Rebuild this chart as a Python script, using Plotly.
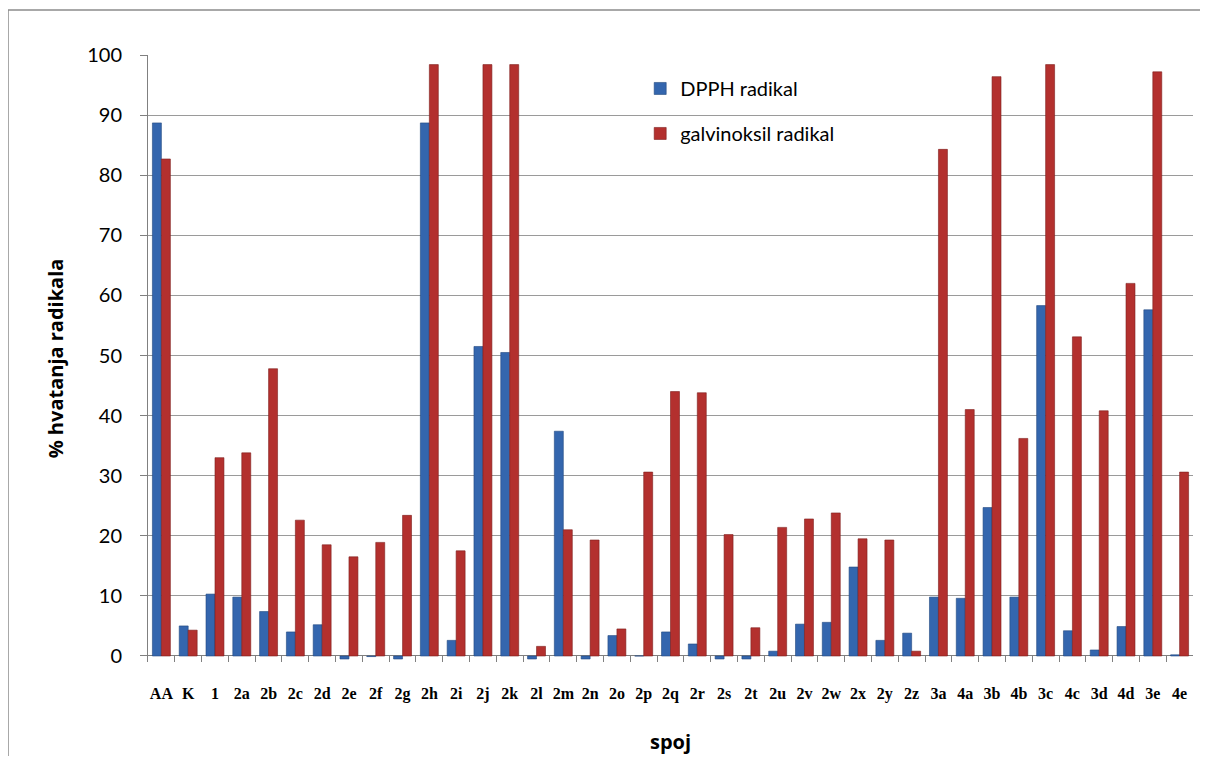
import plotly.graph_objects as go

spoj = ['AA', 'K', '1', '2a', '2b', '2c', '2d', '2e', '2f', '2g', '2h', '2i', '2j', '2k',
        '2l', '2m', '2n', '2o', '2p', '2q', '2r', '2s', '2t', '2u', '2v', '2w', '2x', '2y',
        '2z', '3a', '4a', '3b', '4b', '3c', '4c', '3d', '4d', '3e', '4e']

dpph = [88.7, 5.0, 10.3, 9.8, 7.4, 4.0, 5.2, -0.5, -0.1, -0.5, 88.7, 2.6, 51.5, 50.5,
        -0.5, 37.4, -0.5, 3.4, 0.0, 4.0, 2.0, -0.5, -0.5, 0.8, 5.3, 5.6, 14.8, 2.6,
        3.8, 9.8, 9.6, 24.7, 9.8, 58.3, 4.2, 1.0, 4.9, 57.6, 0.2]

galvinoksil = [82.7, 4.3, 33.0, 33.8, 47.8, 22.6, 18.5, 16.5, 18.9, 23.4, 98.4, 17.5, 98.4, 98.4,
               1.6, 21.0, 19.3, 4.5, 30.6, 44.0, 43.8, 20.2, 4.7, 21.4, 22.8, 23.8, 19.5, 19.3,
               0.8, 84.3, 41.0, 96.4, 36.2, 98.4, 53.1, 40.8, 62.0, 97.2, 30.6]

fig = go.Figure()
fig.add_trace(go.Bar(
    x=spoj, y=dpph, name='DPPH radikal', legendgroup='a',
    marker=dict(color='#3466ae', line=dict(color='#22487f', width=0.6)),
))
fig.add_trace(go.Bar(
    x=spoj, y=galvinoksil, name='galvinoksil radikal', legendgroup='b',
    marker=dict(color='#b3302e', line=dict(color='#7e1f1d', width=0.6)),
))

# page body has 8px margin, so figure is 1192x748 drawn at (8, 8)
# plot area on screen: x 148..1193, y 55..662 (value 0 at 656)
fig.update_layout(
    width=1192, height=748,
    margin=dict(l=140, r=7, t=47, b=94, autoexpand=False),
    plot_bgcolor='white', paper_bgcolor='white',
    barmode='group', bargap=0.33, bargroupgap=0,
    font=dict(family='Lato, Open Sans, sans-serif', color='#000000'),
    legend=dict(
        x=0.471, y=0.977, xanchor='left', yanchor='top',
        font=dict(size=20, family='Lato, sans-serif'),
        tracegroupgap=16, bgcolor='rgba(0,0,0,0)',
    ),
    showlegend=True,
)
fig.update_xaxes(
    title=dict(text='spoj', font=dict(size=20, family='Open Sans, sans-serif', weight='bold'), standoff=32),
    tickfont=dict(size=16, family='Liberation Serif, serif', weight='bold'),
    tickangle=0, ticklabelstandoff=20,
    ticks='inside', ticklen=6, tickcolor='#808080', tickson='boundaries',
    showline=False, showgrid=False,
)
fig.update_yaxes(
    range=[-1, 100],
    tickvals=[0, 10, 20, 30, 40, 50, 60, 70, 80, 90, 100],
    tickfont=dict(size=20, family='Lato, Open Sans, sans-serif'),
    ticks='outside', ticklen=7, tickcolor='#808080', ticklabelstandoff=14,
    showline=True, linecolor='#808080', linewidth=1,
    showgrid=True, gridcolor='#9a9a9a', gridwidth=1,
    zeroline=True, zerolinecolor='#808080', zerolinewidth=1,
    title=dict(text='% hvatanja radikala', font=dict(size=20, family='Open Sans, sans-serif', weight='bold'), standoff=18),
)

# outer chart border (cut off at right and bottom like the reference)
fig.add_shape(
    type='rect', xref='paper', yref='paper',
    x0=(8 - 148) / 1045, x1=1.05, y0=-0.3, y1=(662 - 10) / 607,
    line=dict(color='#8c8c8c', width=1.5), fillcolor='rgba(0,0,0,0)', layer='below',
)

fig.write_html('out.html')
